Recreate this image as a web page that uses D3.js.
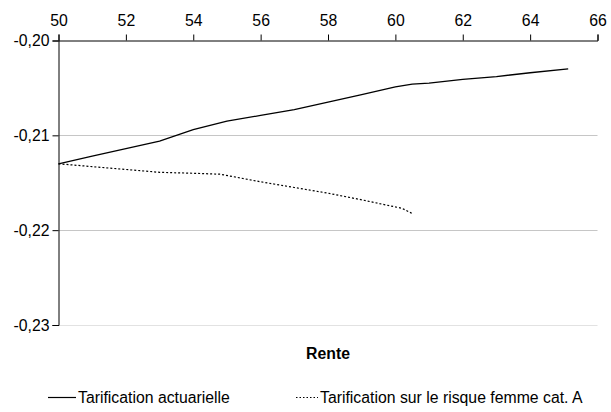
<!DOCTYPE html>
<html><head><meta charset="utf-8">
<script src="https://cdn.jsdelivr.net/npm/d3@7"></script>
<style>body{margin:0;background:#fff}svg{display:block}text{font-family:"Liberation Sans",Arial,sans-serif}</style>
</head><body><svg id="c" width="611" height="412"></svg>
<script>
const xTicks = [50,52,54,56,58,60,62,64,66];
const yTicks = [-0.20,-0.21,-0.22,-0.23];
const actuRente = [50,51,52,53,54,55,56,57,58,59,60,60.5,61,62,63,64,65.13];
const actuValues = [-0.2130,-0.2122,-0.2114,-0.2106,-0.2094,-0.2085,-0.2079,-0.2073,-0.2065,-0.2057,-0.2049,-0.2046,-0.2045,-0.2041,-0.2038,-0.2034,-0.2030];
const femRente = [50,51,52,53,54,54.8,56,57,58,59,60.2,60.53];
const femValues = [-0.2130,-0.2133,-0.2136,-0.2139,-0.2140,-0.2141,-0.2149,-0.2155,-0.2161,-0.2168,-0.2177,-0.2183];
const xTitle = "Rente";
const seriesNames = ["Tarification actuarielle","Tarification sur le risque femme cat. A"];

const FS = 15.8;
const svg = d3.select("#c");
const x = d3.scaleLinear().domain([50,66]).range([58.5,597.5]);
const y = d3.scaleLinear().domain([-0.20,-0.23]).range([40.5,325]);
const fmt = v => d3.format(".2f")(v).replace(".",",").replace("−","-");

// gridlines
svg.append("g").selectAll("line").data(yTicks.slice(1)).join("line")
  .attr("x1",x(50)).attr("x2",x(66)).attr("y1",d=>Math.round(y(d))+0.5).attr("y2",d=>Math.round(y(d))+0.5)
  .attr("stroke",(d,i)=> i===2 ? "#e2e2e2" : "#c6c6c6").attr("stroke-width",1.2);

// top axis
const gx = svg.append("g").attr("transform",`translate(0,${y(-0.20)})`)
  .call(d3.axisTop(x).tickValues(xTicks).tickSize(6).tickPadding(9).tickFormat(d3.format("d")));
gx.select(".domain").attr("stroke","#000");
gx.selectAll(".tick line").attr("stroke","#000");
gx.selectAll("text").attr("font-size",FS).attr("fill","#000").style("font-family","Liberation Sans, Arial, sans-serif");

// left axis
const gy = svg.append("g").attr("transform",`translate(${x(50)},0)`)
  .call(d3.axisLeft(y).tickValues(yTicks).tickSize(6).tickPadding(3).tickFormat(fmt));
gy.select(".domain").attr("stroke","#000");
gy.selectAll(".tick line").attr("stroke","#000");
gy.selectAll("text").attr("font-size",FS).attr("fill","#000").style("font-family","Liberation Sans, Arial, sans-serif");

const line = d3.line().x(d=>x(d[0])).y(d=>y(d[1]));
svg.append("path").datum(d3.zip(actuRente,actuValues)).attr("d",line)
  .attr("fill","none").attr("stroke","#000").attr("stroke-width",1.3);
svg.append("path").datum(d3.zip(femRente,femValues)).attr("d",line)
  .attr("fill","none").attr("stroke","#000").attr("stroke-width",1.2).attr("stroke-dasharray","2,2");

svg.append("text").attr("x",328).attr("y",359).attr("text-anchor","middle")
  .attr("font-size",FS).attr("font-weight","bold").text(xTitle);

// legend
const lg = svg.append("g");
lg.append("line").attr("x1",48).attr("x2",76).attr("y1",397.5).attr("y2",397.5).attr("stroke","#000").attr("stroke-width",1.2);
lg.append("text").attr("x",78).attr("y",403).attr("font-size",FS).text(seriesNames[0]);
lg.append("line").attr("x1",296).attr("x2",318).attr("y1",397.5).attr("y2",397.5).attr("stroke","#000").attr("stroke-width",1.2).attr("stroke-dasharray","1.5,2");
lg.append("text").attr("x",320).attr("y",403).attr("font-size",FS).text(seriesNames[1]);
</script></body></html>
